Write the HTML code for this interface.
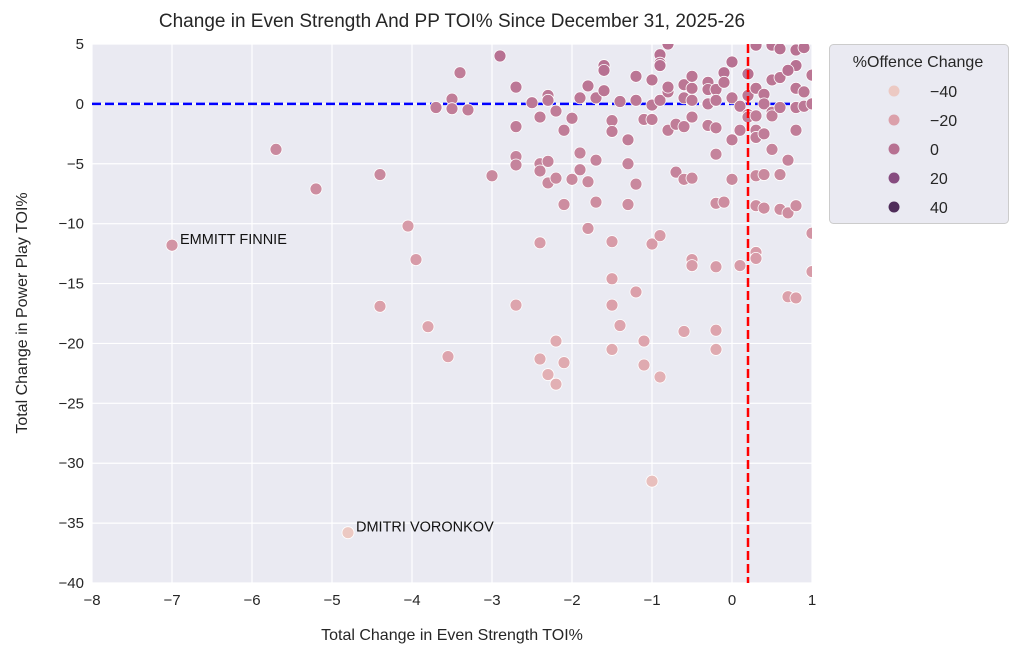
<!DOCTYPE html>
<html><head><meta charset="utf-8"><style>
html,body{margin:0;padding:0;background:#fff;}
svg{display:block;font-family:"Liberation Sans","DejaVu Sans",sans-serif;}
</style></head><body>
<svg id="chart" width="1024" height="659" viewBox="0 0 1024 659">
<defs><clipPath id="plotclip"><rect x="92" y="44" width="720" height="539"/></clipPath></defs>
<text x="452" y="27" font-size="19" text-anchor="middle" fill="#262626">Change in Even Strength And PP TOI% Since December 31, 2025-26</text>
<rect x="92" y="44" width="720" height="539" fill="#eaeaf2"/>
<g id="grid"></g><g id="ticks"></g>
<line id="hline" stroke="#0000ff" stroke-width="2.5" stroke-dasharray="9,4"/>
<g id="pts" clip-path="url(#plotclip)"></g>
<line id="vline" stroke="#ff0000" stroke-width="2.5" stroke-dasharray="9,4"/>
<g id="ann"></g>
<text x="452" y="640" font-size="16" text-anchor="middle" fill="#262626">Total Change in Even Strength TOI%</text>
<text x="0" y="0" font-size="16" text-anchor="middle" fill="#262626" transform="translate(27,313) rotate(-90)">Total Change in Power Play TOI%</text>
<g>
<rect x="829.5" y="44.5" width="179" height="179" rx="4" fill="#eaeaf2" stroke="#cccccc"/>
<text x="918" y="67" font-size="16" text-anchor="middle" fill="#262626">%Offence Change</text>
<g id="leg"></g>
</g>
</svg>
<script>
const xTicks=[-8,-7,-6,-5,-4,-3,-2,-1,0,1];
const yTicks=[5,0,-5,-10,-15,-20,-25,-30,-35,-40];
const legendValues=[-40,-20,0,20,40];
const esChange=[-5.7,-5.2,-7.0,-4.8,-4.4,-4.4,-4.05,-3.95,-3.8,-3.55,-3.4,-3.3,-3.5,-3.5,-3.7,-2.9,-3.0,-2.7,-2.7,-2.7,-2.7,-2.7,-2.4,-2.4,-2.4,-2.4,-2.3,-2.3,-2.3,-2.3,-2.2,-2.2,-2.5,-2.4,-2.3,-2.2,-2.2,-2.1,-2.1,-2.1,-2.0,-2.0,-1.9,-1.9,-1.9,-1.8,-1.8,-1.8,-1.7,-1.7,-1.7,-1.6,-1.6,-1.6,-1.5,-1.5,-1.5,-1.5,-1.5,-1.5,-1.4,-1.4,-1.3,-1.3,-1.3,-1.2,-1.2,-1.2,-1.2,-1.1,-1.1,-1.1,-1.0,-1.0,-1.0,-1.0,-1.0,-0.9,-0.9,-0.9,-0.9,-0.9,-0.9,-0.8,-0.8,-0.8,-0.8,-0.7,-0.7,-0.6,-0.6,-0.6,-0.6,-0.6,-0.5,-0.5,-0.5,-0.5,-0.5,-0.5,-0.5,-0.3,-0.3,-0.3,-0.3,-0.2,-0.2,-0.2,-0.2,-0.2,-0.2,-0.2,-0.2,-0.1,-0.1,-0.1,0,0,0,0,0.1,0.1,0.1,0.2,0.2,0.2,0.2,0.3,0.3,0.3,0.3,0.3,0.3,0.3,0.3,0.3,0.4,0.4,0.4,0.4,0.4,0.5,0.5,0.5,0.5,0.5,0.6,0.6,0.6,0.6,0.7,0.7,0.7,0.8,0.8,0.8,0.8,0.8,0.8,0.8,0.9,0.9,0.9,1.0,1.0,1.0,1.0,0.7,0.6];
const ppChange=[-3.8,-7.1,-11.8,-35.8,-5.9,-16.9,-10.2,-13.0,-18.6,-21.1,2.6,-0.5,0.4,-0.4,-0.3,4.0,-6.0,1.4,-1.9,-4.4,-5.1,-16.8,-11.6,-5.0,-5.6,-1.1,0.7,0.3,-4.8,-6.6,-6.2,-0.6,0.1,-21.3,-22.6,-19.8,-23.4,-21.6,-8.4,-2.2,-1.2,-6.3,-4.1,-5.5,0.5,-10.4,-6.5,1.5,-4.7,-8.2,0.5,3.2,2.8,1.1,-1.4,-2.3,-11.5,-14.6,-16.8,-20.5,0.2,-18.5,-3.0,-5.0,-8.4,2.3,0.3,-6.7,-15.7,-1.3,-19.8,-21.8,2.0,-0.1,-1.3,-11.7,-31.5,4.1,3.4,3.2,0.3,-11.0,-22.8,-2.2,1.0,1.4,5.0,-1.7,-5.7,1.6,0.5,-1.9,-6.3,-19.0,1.3,2.3,0.3,-1.1,-13.0,-13.5,-6.2,1.8,1.2,0.0,-1.8,-18.9,-20.5,-13.6,-8.3,1.2,0.3,-2.0,-4.2,2.6,1.8,-8.2,3.5,0.5,-3.0,-6.3,-0.2,-2.2,-13.5,2.5,0.7,-0.9,-1.1,4.9,1.3,-1.0,-2.2,-6.0,-12.4,-12.9,-8.5,-2.8,0.8,0,-2.5,-5.9,-8.7,4.9,2.0,-0.7,-1.0,-3.8,2.2,-0.3,-8.8,-5.9,-4.7,-9.1,-16.1,1.3,3.2,4.5,-2.2,-0.3,-16.2,-8.5,4.7,1.0,-0.2,2.4,0,-10.8,-14.0,2.8,4.6];
const offenceChange=[-10,-12,-15,-40,-10,-20,-18,-18,-22,-22,-5,-5,-5,-5,-5,0,-10,-3,-5,-8,-8,-22,-18,-8,-8,-5,-3,-3,-8,-10,-10,-5,-3,-25,-28,-25,-28,-25,-12,-5,-5,-10,-8,-8,-3,-15,-10,-2,-8,-12,-3,0,0,-2,-5,-5,-18,-20,-20,-25,-3,-22,-5,-8,-12,-2,-3,-10,-20,-5,-22,-25,-2,-3,-5,-18,-35,0,0,0,-3,-18,-28,-5,-2,-2,0,-5,-8,-2,-3,-5,-10,-22,-2,-2,-3,-5,-18,-18,-10,-2,-2,-3,-5,-22,-25,-18,-12,-2,-3,-5,-8,0,-2,-12,0,-3,-5,-10,-3,-5,-18,0,-2,-5,-5,0,-2,-5,-5,-10,-18,-18,-12,-5,-2,-3,-5,-10,-12,0,-2,-3,-5,-8,-2,-3,-12,-10,-8,-12,-20,-2,0,0,-5,-3,-20,-12,0,-2,-3,-2,-3,-15,-18,0,0];
const annotNames=["EMMITT FINNIE","DMITRI VORONKOV"];
const annotX=[-7.0,-4.8];
const annotY=[-11.8,-35.8];
const refX=0.2, refY=0;

const NS="http://www.w3.org/2000/svg";
const X0=92,X1=812,Y0=44,Y1=583;
const xs=v=>X0+(v-(-8))/(1-(-8))*(X1-X0);
const ys=v=>Y0+(5-v)/(5-(-40))*(Y1-Y0);
const stops=[[-40,[236,201,195]],[-20,[219,160,170]],[0,[183,113,146]],[20,[135,76,128]],[40,[79,45,90]]];
function col(v){v=Math.max(-40,Math.min(40,v));for(let i=0;i<4;i++){const a=stops[i],b=stops[i+1];if(v<=b[0]){const t=(v-a[0])/(b[0]-a[0]);const c=a[1].map((q,k)=>Math.round(q+(b[1][k]-q)*t));return `rgb(${c})`;}}return 'rgb(79,45,90)';}
function mk(t,attrs,parent){const e=document.createElementNS(NS,t);for(const k in attrs)e.setAttribute(k,attrs[k]);parent.appendChild(e);return e;}
const grid=document.getElementById('grid'),ticks=document.getElementById('ticks');
xTicks.forEach(t=>{const g=mk('line',{x1:xs(t),x2:xs(t),y1:Y0,y2:Y1,stroke:'#fff','stroke-width':1.2},grid);


const l=mk('text',{x:xs(t),y:Y1+22,'font-size':15,'text-anchor':'middle',fill:'#262626'},ticks);l.textContent=(t<0?'\u2212'+(-t):t);

});
yTicks.forEach(t=>{const g=mk('line',{x1:X0,x2:X1,y1:ys(t),y2:ys(t),stroke:'#fff','stroke-width':1.2},grid);


const l=mk('text',{x:X0-8,y:ys(t)+5,'font-size':15,'text-anchor':'end',fill:'#262626'},ticks);l.textContent=(t<0?'\u2212'+(-t):t);

});
const h=document.getElementById('hline');h.setAttribute('x1',X0);h.setAttribute('x2',X1);h.setAttribute('y1',ys(refY));h.setAttribute('y2',ys(refY));
const v=document.getElementById('vline');v.setAttribute('x1',xs(refX));v.setAttribute('x2',xs(refX));v.setAttribute('y1',Y0);v.setAttribute('y2',Y1);
const pts=document.getElementById('pts');
esChange.forEach((x,i)=>{const c=mk('circle',{cx:xs(x),cy:ys(ppChange[i]),r:6,fill:col(offenceChange[i]),stroke:'#fff','stroke-width':0.8},pts);

});
const ann=document.getElementById('ann');
annotNames.forEach((n,i)=>{const t=mk('text',{x:xs(annotX[i])+8,y:ys(annotY[i])-1,'font-size':14.5,fill:'#111'},ann);t.textContent=n;

});
const leg=document.getElementById('leg');
legendValues.forEach((val,i)=>{const y=91+i*29;const c=mk('circle',{cx:894,cy:y,r:5.5,fill:col(val)},leg);


const t=mk('text',{x:930,y:y+6,'font-size':16,fill:'#262626'},leg);t.textContent=val<0?'\u2212'+(-val):val;

});
</script>
</body></html>
